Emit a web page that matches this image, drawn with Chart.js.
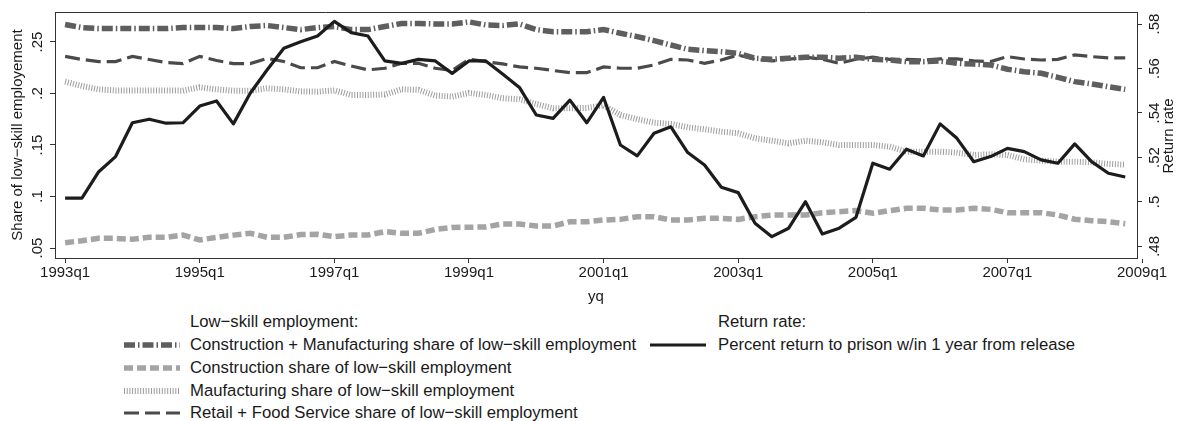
<!DOCTYPE html>
<html><head><meta charset="utf-8">
<script src="https://cdn.jsdelivr.net/npm/chart.js@4"></script>
<style>
body{margin:0;background:#fff;font-family:"Liberation Sans",Arial,sans-serif;}
#wrap{position:relative;width:1179px;height:421px;overflow:hidden;}
#cv{position:absolute;left:0;top:0;}
.leg{position:absolute;font-size:16.7px;color:#1a1a1a;white-space:nowrap;line-height:18px;}
.sw{position:absolute;}
</style></head><body>
<div id="wrap">
<canvas id="cv" width="1179" height="305"></canvas>
<div id="legend"></div>
</div>
<script>
// ---- categories ----
const startYear = 1993;
const nQuarters = 64;
const quarters = [];
for (let i = 0; i < nQuarters; i++) quarters.push((startYear + Math.floor(i / 4)) + 'q' + (i % 4 + 1));

// ---- tick labels ----
const xTickLabels = ['1993q1','1995q1','1997q1','1999q1','2001q1','2003q1','2005q1','2007q1','2009q1'];
const leftTickValues = [0.05, 0.10, 0.15, 0.20, 0.25];
const leftTickLabels = ['.05', '.1', '.15', '.2', '.25'];
const rightTickValues = [0.48, 0.50, 0.52, 0.54, 0.56, 0.58];
const rightTickLabels = ['.48', '.5', '.52', '.54', '.56', '.58'];

// ---- series (left axis: share of low-skill employment) ----
const constManuf = [0.267,0.264,0.263,0.263,0.263,0.263,0.263,0.264,0.264,0.264,
  0.263,0.265,0.266,0.264,0.262,0.264,0.265,0.262,0.262,0.265,
  0.268,0.268,0.2675,0.2675,0.2695,0.2665,0.266,0.2675,0.262,0.260,
  0.260,0.260,0.262,0.2585,0.2552,0.2513,0.2471,0.2429,0.2416,0.2406,
  0.239,0.2342,0.2332,0.2342,0.2352,0.2352,0.2342,0.2352,0.2332,0.2326,
  0.2309,0.2309,0.2315,0.2293,0.2285,0.2277,0.2235,0.2212,0.2196,0.2157,
  0.2115,0.2093,0.2065,0.204];
const construction = [0.0552,0.0571,0.0594,0.0594,0.0585,0.0604,0.0604,0.0626,0.0578,0.0604,
  0.0625,0.0643,0.0604,0.0604,0.063,0.0633,0.061,0.0626,0.0626,0.0659,
  0.0643,0.0643,0.068,0.070,0.0701,0.0705,0.0733,0.0733,0.0714,0.0714,
  0.0755,0.0755,0.0772,0.0778,0.0804,0.0804,0.0772,0.0772,0.0788,0.0788,
  0.0778,0.0804,0.082,0.082,0.082,0.0843,0.0853,0.0863,0.0837,0.0863,
  0.0885,0.0885,0.0869,0.0869,0.0885,0.0875,0.0843,0.0843,0.0843,0.082,
  0.0779,0.0765,0.0755,0.0735];
const manufacturing = [0.2115,0.2073,0.204,0.203,0.203,0.203,0.203,0.2027,0.206,0.204,
  0.2027,0.2027,0.2051,0.204,0.202,0.2018,0.203,0.1986,0.1986,0.199,
  0.2041,0.2035,0.198,0.197,0.2005,0.1986,0.1954,0.1944,0.1898,0.1856,
  0.1856,0.186,0.1885,0.1791,0.175,0.1717,0.1704,0.1672,0.1653,0.1629,
  0.1614,0.1565,0.1542,0.1516,0.1542,0.1526,0.15,0.15,0.15,0.1484,
  0.1435,0.1435,0.1435,0.1425,0.1403,0.141,0.1403,0.1361,0.1348,0.1338,
  0.1338,0.1332,0.1316,0.131];
const retailFood = [0.236,0.233,0.231,0.231,0.236,0.233,0.230,0.229,0.236,0.232,
  0.229,0.229,0.234,0.231,0.225,0.225,0.231,0.2267,0.2229,0.2245,
  0.2293,0.2293,0.2245,0.2223,0.2332,0.2309,0.2287,0.2258,0.2245,0.2223,
  0.2202,0.2202,0.2258,0.2245,0.2245,0.2277,0.2332,0.2325,0.2293,0.2325,
  0.2374,0.2332,0.2316,0.2332,0.2352,0.2332,0.2293,0.2332,0.2352,0.2332,
  0.2332,0.2325,0.2335,0.2335,0.2316,0.231,0.2358,0.2335,0.2325,0.2332,
  0.2374,0.2358,0.2345,0.2345];
// ---- series (right axis: return rate) ----
const returnRate = [0.5017,0.5017,0.5136,0.5204,0.5356,0.5372,0.5354,0.5356,0.5431,0.5454,
  0.5351,0.5489,0.5593,0.5691,0.5720,0.5746,0.5812,0.5761,0.5746,0.5634,
  0.5623,0.5641,0.5634,0.5578,0.5634,0.5634,0.5575,0.5515,0.5391,0.5376,
  0.5458,0.5356,0.5470,0.5256,0.5207,0.5309,0.5338,0.5222,0.5166,0.5066,
  0.5042,0.4904,0.4844,0.4882,0.5001,0.4856,0.4882,0.4931,0.5174,0.5147,
  0.5237,0.5207,0.5351,0.5286,0.5181,0.5204,0.5241,0.5226,0.5189,0.5174,
  0.5261,0.5181,0.5129,0.5112];

// ---- styles ----
const FONT = '"Liberation Sans", Arial, sans-serif';
const TXT = '#1a1a1a';
const AX = '#333333';
const styles = {
  constManuf: {color:'#5e5e5e', width:5.5, dash:[11,3,1.5,3]},
  construction: {color:'#a4a4a4', width:5.5, dash:[9,4]},
  manufacturing: {color:'#9c9c9c', width:6, dash:[1,1.7]},
  retailFood: {color:'#4a4a4a', width:3.2, dash:[15,6]},
  returnRate: {color:'#1c1c1c', width:3.2, dash:[]}
};
const toXY = arr => arr.map((v, i) => ({x: i, y: v}));
function ds(label, arr, key, axis, order) {
  const s = styles[key];
  return {label, data: toXY(arr), yAxisID: axis, borderColor: s.color, borderWidth: s.width,
    borderDash: s.dash, borderCapStyle: 'butt', borderJoinStyle: s.dash.length ? 'miter' : 'round',
    pointRadius: 0, fill: false, tension: 0, order};
}

const boxPlugin = {
  id: 'box',
  afterDraw(chart) {
    const {ctx, chartArea: a} = chart;
    ctx.save();
    ctx.strokeStyle = AX; ctx.lineWidth = 1;
    ctx.beginPath();
    ctx.moveTo(a.left, a.top + 0.5); ctx.lineTo(a.right, a.top + 0.5);
    ctx.stroke();
    ctx.fillStyle = TXT;
    ctx.font = '15px ' + FONT;
    ctx.translate(1169, 136);
    ctx.rotate(-Math.PI / 2);
    ctx.textAlign = 'center'; ctx.textBaseline = 'middle';
    ctx.fillText('Return rate', 0, 0);
    ctx.restore();
  }
};

const tickFont = {family: FONT, size: 15};
new Chart(document.getElementById('cv'), {
  type: 'line',
  data: {
    datasets: [
      ds('Percent return to prison w/in 1 year from release', returnRate, 'returnRate', 'y2', 0),
      ds('Construction + Manufacturing share of low\u2212skill employment', constManuf, 'constManuf', 'y', 1),
      ds('Construction share of low\u2212skill employment', construction, 'construction', 'y', 2),
      ds('Maufacturing share of low\u2212skill employment', manufacturing, 'manufacturing', 'y', 3),
      ds('Retail + Food Service share of low\u2212skill employment', retailFood, 'retailFood', 'y', 4)
    ]
  },
  options: {
    responsive: false, animation: false, events: [],
    layout: {padding: {top: 12, left: 0, right: 0, bottom: 0}},
    plugins: {legend: {display: false}, tooltip: {enabled: false}},
    scales: {
      x: {
        type: 'linear', min: -0.6, max: 63.7,
        afterBuildTicks: s => { s.ticks = xTickLabels.map((l, i) => ({value: i * 8})); },
        afterFit: s => { s.height = 47; },
        ticks: {callback: v => xTickLabels[Math.round(v / 8)], autoSkip: false, minRotation: 0, maxRotation: 0,
          padding: 1, font: tickFont, color: TXT},
        grid: {display: true, drawOnChartArea: false, drawTicks: true, tickLength: 5, color: AX},
        border: {display: true, color: AX, width: 1},
        title: {display: true, text: 'yq', font: {family: FONT, size: 15, lineHeight: 1}, color: TXT, padding: {top: 0, bottom: 1}}
      },
      y: {
        position: 'left', min: 0.0403, max: 0.2791,
        afterBuildTicks: s => { s.ticks = leftTickValues.map(v => ({value: v})); },
        afterFit: s => { s.width = 55; },
        ticks: {callback: (v, i) => leftTickLabels[i], minRotation: 90, maxRotation: 90, crossAlign: 'center',
          padding: 2, font: tickFont, color: TXT, autoSkip: false},
        grid: {display: true, drawOnChartArea: false, drawTicks: true, tickLength: 5, color: AX},
        border: {display: true, color: AX, width: 1},
        title: {display: true, text: 'Share of low\u2212skill employement', font: {family: FONT, size: 15, lineHeight: 1},
          color: TXT, padding: {top: 10, bottom: 0}}
      },
      y2: {
        position: 'right', min: 0.4748, max: 0.5854,
        afterBuildTicks: s => { s.ticks = rightTickValues.map(v => ({value: v})); },
        afterFit: s => { s.width = 42; },
        ticks: {callback: (v, i) => rightTickLabels[i], minRotation: 90, maxRotation: 90, crossAlign: 'center',
          padding: 2, font: tickFont, color: TXT, autoSkip: false},
        grid: {display: true, drawOnChartArea: false, drawTicks: true, tickLength: 5, color: AX},
        border: {display: true, color: AX, width: 1}
      }
    }
  },
  plugins: [boxPlugin]
});

// ---- legend (HTML) ----
const legendLeft = [
  {key: 'constManuf', text: 'Construction + Manufacturing share of low\u2212skill employment'},
  {key: 'construction', text: 'Construction share of low\u2212skill employment'},
  {key: 'manufacturing', text: 'Maufacturing share of low\u2212skill employment'},
  {key: 'retailFood', text: 'Retail + Food Service share of low\u2212skill employment'}
];
const legendRight = [{key: 'returnRate', text: 'Percent return to prison w/in 1 year from release'}];
const rowY = [345, 368, 391, 413];
const L = document.getElementById('legend');
function addText(x, yc, text) {
  const d = document.createElement('div');
  d.className = 'leg'; d.style.left = x + 'px'; d.style.top = (yc - 9) + 'px'; d.textContent = text;
  L.appendChild(d);
}
function addSwatch(x, yc, w, key) {
  const s = styles[key];
  const ns = 'http://www.w3.org/2000/svg';
  const svg = document.createElementNS(ns, 'svg');
  svg.setAttribute('width', w); svg.setAttribute('height', 12);
  svg.setAttribute('class', 'sw');
  svg.style.left = x + 'px'; svg.style.top = (yc - 6) + 'px';
  const ln = document.createElementNS(ns, 'line');
  ln.setAttribute('x1', 0); ln.setAttribute('x2', w); ln.setAttribute('y1', 6); ln.setAttribute('y2', 6);
  ln.setAttribute('stroke', s.color); ln.setAttribute('stroke-width', s.width);
  if (s.dash.length) ln.setAttribute('stroke-dasharray', s.dash.join(' '));
  svg.appendChild(ln);
  L.appendChild(svg);
}
addText(190, 322, 'Low\u2212skill employment:');
legendLeft.forEach((e, i) => { addSwatch(124, rowY[i], 56, e.key); addText(190, rowY[i], e.text); });
addText(718, 322, 'Return rate:');
legendRight.forEach((e, i) => { addSwatch(650, rowY[i], 56, e.key); addText(718, rowY[i], e.text); });
</script>
</body></html>
